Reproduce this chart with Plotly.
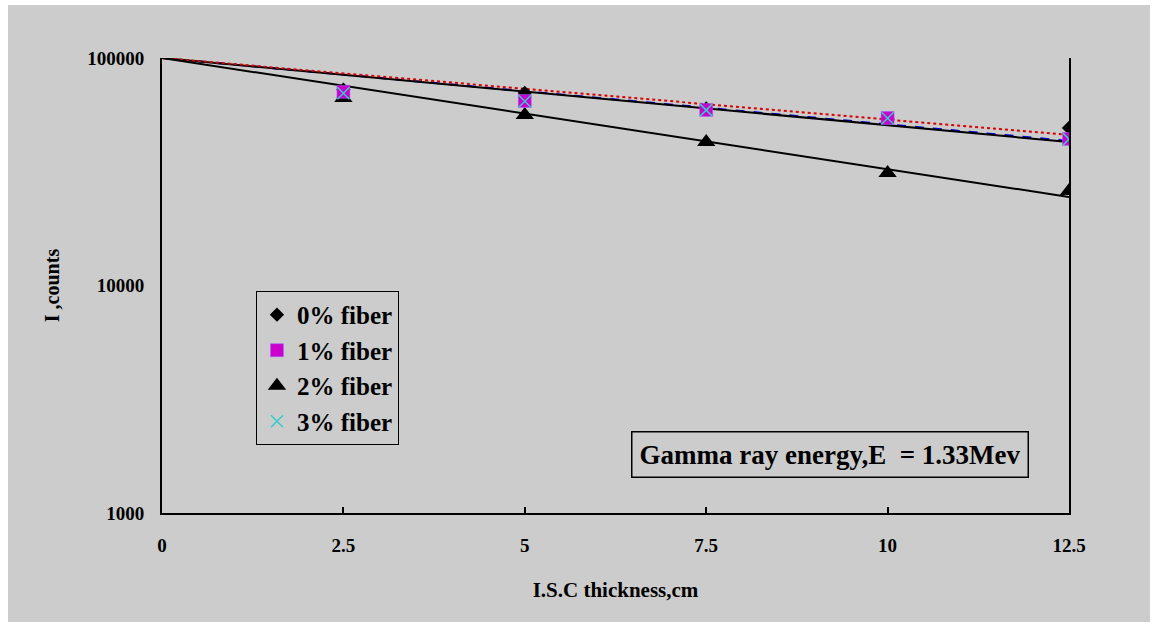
import plotly.graph_objects as go

# ---- data ----
thickness = [2.5, 5, 7.5, 10, 12.5]
fiber0 = [72500, 70200, 60000, 54000, 49300]
fiber1 = [71000, 64700, 59100, 54500, 44100]
fiber2 = [66700, 56200, 42700, 31200, 26000]
fiber3 = [70000, 64500, 59000, 54300, 44000]

fit_x = [0, 12.5]
fit0 = [100000, 42700]   # black solid (upper)
fit1 = [100000, 45900]   # red dotted
fit2 = [100000, 24500]   # black solid (lower)
fit3 = [100000, 43200]   # blue dashed

x_ticks = [0, 2.5, 5, 7.5, 10, 12.5]
x_ticktext = ["0", "2.5", "5", "7.5", "10", "12.5"]
y_ticks = [1000, 10000, 100000]
y_ticktext = ["1000", "10000", "100000"]

FONT = "Liberation Serif"
GRAY = "#cccccc"

fig = go.Figure()

# trendlines
fig.add_trace(go.Scatter(x=fit_x, y=fit3, mode="lines", showlegend=False,
                         line=dict(color="#0000cc", width=2, dash="dash")))
fig.add_trace(go.Scatter(x=fit_x, y=fit0, mode="lines", showlegend=False,
                         line=dict(color="black", width=2)))
fig.add_trace(go.Scatter(x=fit_x, y=fit1, mode="lines", showlegend=False,
                         line=dict(color="#dd0000", width=2, dash="dot")))
fig.add_trace(go.Scatter(x=fit_x, y=fit2, mode="lines", showlegend=False,
                         line=dict(color="black", width=2)))

# markers
fig.add_trace(go.Scatter(x=thickness, y=fiber2, mode="markers", name="2% fiber",
                         legendrank=3, legendgroup="g2",
                         marker=dict(symbol="triangle-up", size=16, color="black")))
fig.add_trace(go.Scatter(x=thickness, y=fiber0, mode="markers", name="0% fiber",
                         legendrank=1, legendgroup="g0",
                         marker=dict(symbol="diamond", size=11, color="black")))
fig.add_trace(go.Scatter(x=thickness, y=fiber1, mode="markers", name="1% fiber",
                         legendrank=2, legendgroup="g1",
                         marker=dict(symbol="square", size=13, color="#cc00cc",
                                     line=dict(color="#9966ff", width=0.5))))
fig.add_trace(go.Scatter(x=thickness, y=fiber3, mode="markers", name="3% fiber",
                         legendrank=4, legendgroup="g3",
                         marker=dict(symbol="x-thin", size=12, color="#33cccc",
                                     line=dict(color="#33cccc", width=1.5))))

# background gray panel with white margin
fig.add_shape(type="rect", xref="paper", yref="paper",
              x0=-0.1698, x1=1.0893, y0=-0.2396, y1=1.1165,
              fillcolor=GRAY, line=dict(width=0), layer="below")

fig.add_annotation(xref="paper", yref="paper", x=0.736, y=0.1275,
                   text="Gamma ray energy,E  = 1.33Mev", showarrow=False,
                   font=dict(family=FONT, size=27, color="black", weight="bold"),
                   bordercolor="black", borderwidth=1.5, borderpad=7,
                   bgcolor=GRAY, xanchor="center", yanchor="middle")

fig.update_layout(
    width=1158, height=628,
    margin=dict(l=162, r=89, t=58, b=115),
    paper_bgcolor="white", plot_bgcolor=GRAY,
    font=dict(family=FONT, color="black"),
    showlegend=True,
    legend=dict(x=0.1036, y=0.488, xanchor="left", yanchor="top",
                bgcolor=GRAY, bordercolor="black", borderwidth=1,
                font=dict(family=FONT, size=25, color="black", weight="bold"),
                tracegroupgap=0, itemwidth=30),
    xaxis=dict(range=[0, 12.5], tickvals=x_ticks, ticktext=x_ticktext,
               showgrid=False, zeroline=False, showline=True, linecolor="black",
               linewidth=2, ticks="inside", ticklen=6, tickwidth=1.5, tickcolor="black",
               ticklabelstandoff=14,
               tickfont=dict(family=FONT, size=19, weight="bold"),
               title=dict(text="I.S.C thickness,cm", standoff=28,
                          font=dict(family=FONT, size=21, weight="bold"))),
    yaxis=dict(type="log", range=[3, 5], tickvals=y_ticks, ticktext=y_ticktext,
               showgrid=False, zeroline=False, showline=True, linecolor="black",
               linewidth=2, mirror=True, ticks="", ticklabelstandoff=12,
               tickfont=dict(family=FONT, size=19, weight="bold"),
               title=dict(text="I ,counts", standoff=22,
                          font=dict(family=FONT, size=20, weight="bold"))),
)

fig.write_html("out.html")
